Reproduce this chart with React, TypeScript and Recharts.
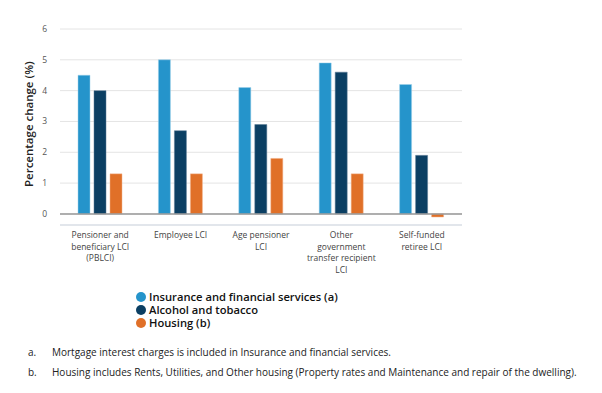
import React from "react";
import { BarChart, Bar, XAxis, YAxis, CartesianGrid, ReferenceLine } from "recharts";

const categories = [
  "Pensioner and|beneficiary LCI|(PBLCI)",
  "Employee LCI",
  "Age pensioner|LCI",
  "Other|government|transfer recipient|LCI",
  "Self-funded|retiree LCI",
];
const insurance = [4.5, 5.0, 4.1, 4.9, 4.2];
const alcohol = [4.0, 2.7, 2.9, 4.6, 1.9];
const housing = [1.3, 1.3, 1.8, 1.3, -0.1];
const yTicks = [0, 1, 2, 3, 4, 5, 6];
const seriesNames = ["Insurance and financial services (a)", "Alcohol and tobacco", "Housing (b)"];
const seriesColors = ["#2594CB", "#0B3F63", "#E07028"];
const footnotes = [
  ["a.", "Mortgage interest charges is included in Insurance and financial services."],
  ["b.", "Housing includes Rents, Utilities, and Other housing (Property rates and Maintenance and repair of the dwelling)."],
];

const data = categories.map((c, i) => ({
  name: c,
  insurance: insurance[i],
  alcohol: alcohol[i],
  housing: housing[i],
}));

const FONT = "'Open Sans', sans-serif";

const XTick = (props: any) => {
  const { x, y, payload } = props;
  const lines = String(payload.value).split("|");
  return (
    <text x={x} y={y} textAnchor="middle" fill="#444" fontSize={8.5} fontFamily={FONT}>
      {lines.map((l: string, i: number) => (
        <tspan key={i} x={x} dy={i === 0 ? 5 : 11.7}>
          {l}
        </tspan>
      ))}
    </text>
  );
};

export default function App() {
  return (
    <div style={{ position: "absolute", left: 0, top: 0, width: 602, height: 393, background: "#fff" }}>
      <BarChart
        width={602}
        height={393}
        data={data}
        margin={{ top: 29, right: 140, bottom: 108, left: 25 }}
        barSize={12}
        barGap={4}
      >
        <CartesianGrid vertical={false} stroke="#e4e4e4" strokeWidth={1} />
        <XAxis
          dataKey="name"
          axisLine={{ stroke: "#d3dbe6" }}
          tickLine={false}
          tick={<XTick />}
          interval={0}
          height={60}
        />
        <YAxis
          domain={[-0.36, 6]}
          ticks={yTicks}
          allowDataOverflow
          axisLine={false}
          tickLine={false}
          width={35}
          tick={{ fontSize: 8.5, fill: "#555", fontFamily: FONT }}
          tickMargin={7}
          label={{
            value: "Percentage change (%)",
            angle: -90,
            position: "insideLeft",
            offset: 0,
            dx: 4,
            dy: 60,
            style: { fontSize: 11.5, fontWeight: 600, fill: "#222", fontFamily: FONT },
          }}
        />
        <ReferenceLine y={0} stroke="#999" strokeWidth={1.5} />
        <Bar dataKey="insurance" name={seriesNames[0]} fill={seriesColors[0]} stroke="#9fd0ea" strokeWidth={0.5} isAnimationActive={false} />
        <Bar dataKey="alcohol" name={seriesNames[1]} fill={seriesColors[1]} stroke="#5a7a95" strokeWidth={0.5} isAnimationActive={false} />
        <Bar dataKey="housing" name={seriesNames[2]} fill={seriesColors[2]} stroke="#f2b38a" strokeWidth={0.5} isAnimationActive={false} />
      </BarChart>
      <div style={{ position: "absolute", left: 136, top: 290, fontFamily: FONT }}>
        {seriesNames.map((n, i) => (
          <div key={n} style={{ display: "flex", alignItems: "center", height: 13 }}>
            <span
              style={{
                width: 10,
                height: 10,
                borderRadius: 5,
                background: seriesColors[i],
                display: "inline-block",
                marginRight: 3,
              }}
            />
            <span style={{ fontSize: 11.2, fontWeight: 600, color: "#111", lineHeight: "13px", whiteSpace: "nowrap" }}>{n}</span>
          </div>
        ))}
      </div>
      {footnotes.map(([k, t], i) => (
        <div
          key={k}
          style={{
            position: "absolute",
            left: 28,
            top: 345 + i * 20,
            fontFamily: FONT,
            fontSize: 10,
            color: "#222",
            whiteSpace: "nowrap",
          }}
        >
          <span style={{ display: "inline-block", width: 24 }}>{k}</span>
          {t}
        </div>
      ))}
    </div>
  );
}
